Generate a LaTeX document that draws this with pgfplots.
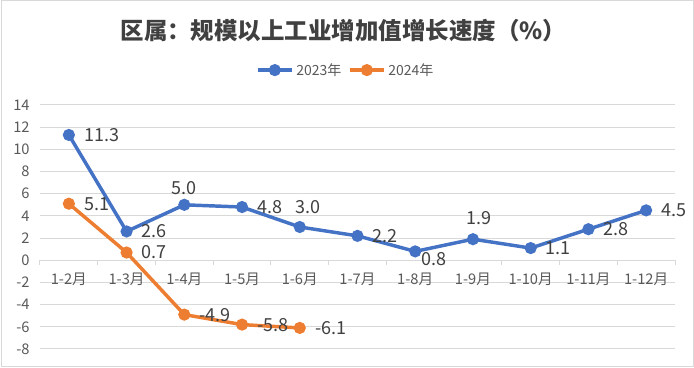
\documentclass[border=0pt]{standalone}
\usepackage{fontspec}
\setmainfont{Noto Sans CJK SC}
\usepackage{pgfplots}
\pgfplotsset{compat=1.18}
\definecolor{blue23}{HTML}{4472C4}
\definecolor{orange24}{HTML}{ED7D31}
\definecolor{txt}{HTML}{595959}
\definecolor{lbl}{HTML}{404040}
\definecolor{gridc}{HTML}{D9D9D9}
\tikzset{lab/.style={font=\fontsize{13.5}{15}\selectfont, text=lbl, inner sep=0pt}}
\begin{document}
\begin{tikzpicture}
\path[use as bounding box] (0,0) rectangle (520.5pt,276pt);
\draw[gridc, line width=0.75pt] (0.75pt,0.75pt) rectangle (519.75pt,275.25pt);
\node[font=\fontsize{17.6}{20}\selectfont\bfseries, text=lbl] at (257.5pt,252.75pt) {区属：规模以上工业增加值增长速度（\%）};
\begin{axis}[
 at={(30pt,14.25pt)}, anchor=south west,
 scale only axis, width=476.25pt, height=183pt,
 xmin=-0.5, xmax=10.5, ymin=-8, ymax=14,
 axis x line=middle, axis y line=left,
 y axis line style={draw=none},
 x axis line style={draw=gridc, line width=0.75pt, -},
 xtick={0,...,10},
 xticklabels={1-2月,1-3月,1-4月,1-5月,1-6月,1-7月,1-8月,1-9月,1-10月,1-11月,1-12月},
 xticklabel style={yshift=-1.5pt},
 major x tick style={draw=none},
 minor xtick={-0.5,0.5,...,10.5},
 minor x tick style={draw=gridc, line width=0.75pt},
 minor tick length=3.75pt,
 tick align=outside,
 ytick={-8,-6,...,14},
 major y tick style={draw=none},
 ymajorgrids, grid style={draw=gridc, line width=0.75pt},
 /pgf/number format/assume math mode=true,
 ticklabel style={font=\fontsize{11}{13}\selectfont, text=txt},
 legend style={at={(0.482,1.143)}, anchor=center, draw=none, fill=none,
   font=\fontsize{10.5}{12}\selectfont, text=txt, legend columns=2,
   /tikz/every even column/.append style={column sep=3pt}},
 legend image code/.code={\draw[mark repeat=2,mark phase=2,#1] plot coordinates {(0cm,0cm) (0.45cm,0cm) (0.9cm,0cm)};},
 clip=false,
]
\addplot[blue23, line width=2.6pt, mark=*, mark size=3.2pt] coordinates {
 (0,11.3) (1,2.6) (2,5.0) (3,4.8) (4,3.0) (5,2.2) (6,0.8) (7,1.9) (8,1.1) (9,2.8) (10,4.5)};
\addlegendentry{2023年}
\addplot[orange24, line width=2.6pt, mark=*, mark size=3.2pt] coordinates {
 (0,5.1) (1,0.7) (2,-4.9) (3,-5.8) (4,-6.1)};
\addlegendentry{2024年}
\node[lab, anchor=west, xshift=11.25pt] at (axis cs:0,11.3) {11.3};
\node[lab, anchor=west, xshift=11.25pt] at (axis cs:1,2.6) {2.6};
\node[lab, anchor=center, yshift=12.75pt] at (axis cs:2,5.0) {5.0};
\node[lab, anchor=west, xshift=11.25pt] at (axis cs:3,4.8) {4.8};
\node[lab, anchor=center, xshift=6pt, yshift=15pt] at (axis cs:4,3.0) {3.0};
\node[lab, anchor=west, xshift=11.25pt] at (axis cs:5,2.2) {2.2};
\node[lab, anchor=center, xshift=14.25pt, yshift=-6pt] at (axis cs:6,0.8) {0.8};
\node[lab, anchor=center, xshift=4.5pt, yshift=15.75pt] at (axis cs:7,1.9) {1.9};
\node[lab, anchor=west, xshift=11.25pt] at (axis cs:8,1.1) {1.1};
\node[lab, anchor=west, xshift=11.25pt] at (axis cs:9,2.8) {2.8};
\node[lab, anchor=west, xshift=11.25pt] at (axis cs:10,4.5) {4.5};
\node[lab, anchor=west, xshift=11.25pt] at (axis cs:0,5.1) {5.1};
\node[lab, anchor=west, xshift=11.25pt] at (axis cs:1,0.7) {0.7};
\node[lab, anchor=west, xshift=11.25pt] at (axis cs:2,-4.9) {-4.9};
\node[lab, anchor=west, xshift=11.25pt] at (axis cs:3,-5.8) {-5.8};
\node[lab, anchor=west, xshift=11.25pt] at (axis cs:4,-6.1) {-6.1};
\end{axis}
\end{tikzpicture}
\end{document}
